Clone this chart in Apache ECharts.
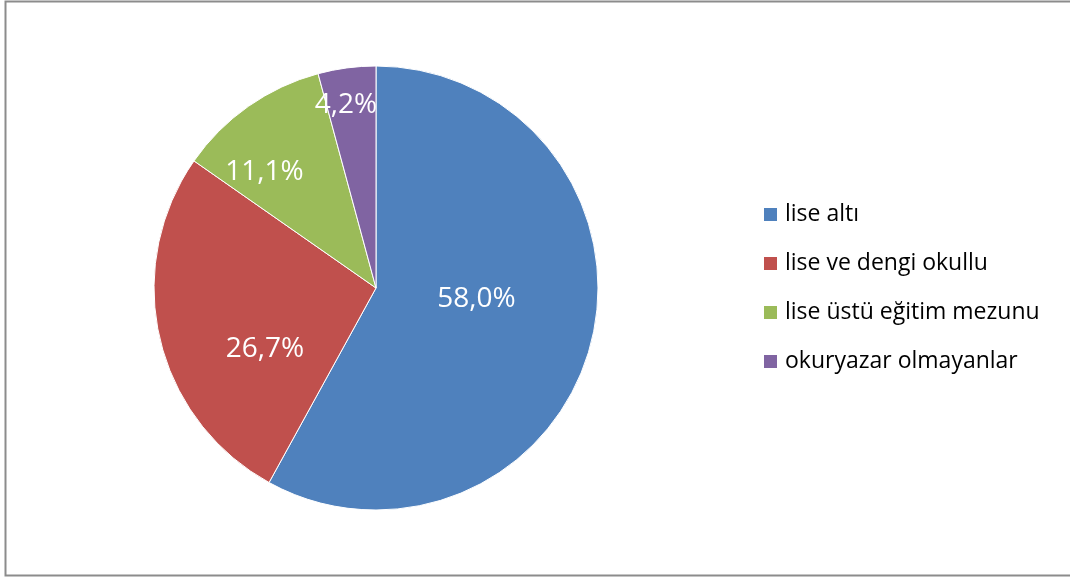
<!DOCTYPE html>
<html>
<head>
<meta charset="utf-8">
<script src="https://cdn.jsdelivr.net/npm/echarts@6/dist/echarts.min.js"></script>
<style>
  html, body { margin: 0; padding: 0; background: #fff; }
  #chart { width: 1070px; height: 578px; }
</style>
</head>
<body>
<div id="chart"></div>
<script>
  // education levels (share in %)
  const categories = ['lise altı', 'lise ve dengi okullu', 'lise üstü eğitim mezunu', 'okuryazar olmayanlar']
  const values = [58.0, 26.7, 11.1, 4.2]
  const colors = ['#4F81BD', '#C0504D', '#9BBB59', '#8064A2']
  // nudge labels to where the original put them
  const labelOffsets = [[-10, -17], [0, 35], [-46, -23], [-15, -70]]

  const chart = echarts.init(document.getElementById('chart'))

  chart.setOption({
    animation: false,
    color: colors,
    graphic: [{
      type: 'rect',
      shape: { x: 5.5, y: 1.5, width: 1080, height: 574 },
      style: { fill: 'none', stroke: '#8c8c8c', lineWidth: 2 }
    }],
    legend: {
      orient: 'vertical',
      left: 762,
      top: 203,
      padding: 0,
      itemWidth: 15,
      itemHeight: 15,
      itemGap: 26,
      icon: 'rect',
      textStyle: {
        fontFamily: 'Open Sans',
        fontSize: 23,
        color: '#000',
        padding: [0, 0, 0, 2]
      },
      data: categories
    },
    series: [{
      type: 'pie',
      center: [376, 288],
      radius: 222,
      startAngle: 90,
      clockwise: true,
      itemStyle: { borderColor: '#fff', borderWidth: 1 },
      label: {
        show: true,
        position: 'inside',
        color: '#fff',
        fontFamily: 'Open Sans',
        fontSize: 28,
        formatter: p => p.value.toFixed(1).replace('.', ',') + '%'
      },
      labelLine: { show: false },
      emphasis: { disabled: true },
      data: categories.map((name, i) => ({
        name: name,
        value: values[i],
        label: { offset: labelOffsets[i] }
      }))
    }]
  })
</script>
</body>
</html>
